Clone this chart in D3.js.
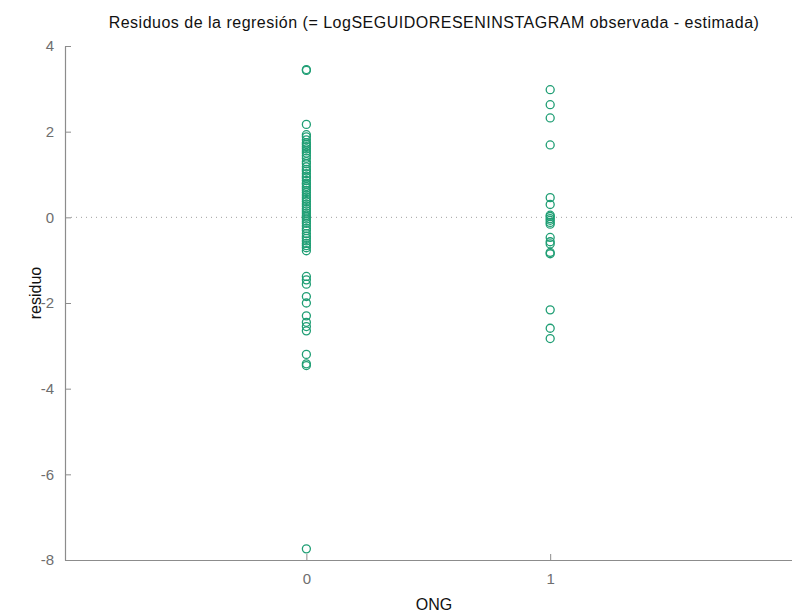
<!DOCTYPE html>
<html>
<head>
<meta charset="utf-8">
<script src="https://cdn.jsdelivr.net/npm/d3@7"></script>
<style>
  body { margin: 0; background: #fff; }
  text { font-family: "Liberation Sans", Arial, sans-serif; }
</style>
</head>
<body>
<svg id="chart" width="792" height="614"></svg>
<script>
// residuos para ONG = 0
const residOng0 = [
  3.45, 3.43, 2.17, 1.93, 1.88, 1.81, 1.74, 1.70, 1.65, 1.60, 1.55, 1.50,
  1.44, 1.38, 1.30, 1.25, 1.18, 1.12, 1.08, 1.02, 0.96, 0.92, 0.86, 0.80,
  0.77, 0.72, 0.68, 0.63, 0.58, 0.52, 0.47, 0.42, 0.37, 0.31, 0.26, 0.20,
  0.15, 0.10, 0.05, 0.01, -0.04, -0.09, -0.14, -0.20, -0.26, -0.31, -0.38,
  -0.44, -0.49, -0.55, -0.61, -0.66, -0.71, -0.78,
  -1.38, -1.46, -1.56, -1.85, -2.00, -2.30, -2.45, -2.55, -2.65,
  -3.20, -3.42, -3.46, -7.74
];
// residuos para ONG = 1
const residOng1 = [
  2.98, 2.63, 2.32, 1.69, 0.46, 0.30, 0.05, 0.02, -0.03, -0.07, -0.12,
  -0.16, -0.47, -0.57, -0.62, -0.82, -0.85, -2.16, -2.59, -2.83
];
const xTicks = [0, 1];
const yTicks = [-8, -6, -4, -2, 0, 2, 4];

const title = 'Residuos de la regresión (= LogSEGUIDORESENINSTAGRAM observada - estimada)';
const xLabel = 'ONG';
const yLabel = 'residuo';

const svg = d3.select('#chart');
const mLeft = 65, mRight = 794, mTop = 46, mBottom = 560;
const green = '#1f9e74';

const points = residOng0.map(v => ({x: 0, y: v}))
  .concat(residOng1.map(v => ({x: 1, y: v})));

const xScale = d3.scaleLinear().domain([-0.99, 2]).range([mLeft, mRight]);
const yScale = d3.scaleLinear().domain([-8, 4]).range([mBottom, mTop]);

// eje y (guion simple como signo menos, igual que el original)
const yAxis = d3.axisLeft(yScale).tickValues(yTicks).tickSizeInner(-6)
  .tickSizeOuter(0).tickPadding(11).tickFormat(d => String(d));
const yg = svg.append('g')
  .attr('transform', `translate(${mLeft},0)`)
  .call(yAxis);

// eje x
const xAxis = d3.axisBottom(xScale).tickValues(xTicks).tickSizeInner(-6)
  .tickSizeOuter(0).tickPadding(13).tickFormat(d => String(d));
const xg = svg.append('g')
  .attr('transform', `translate(0,${mBottom})`)
  .call(xAxis);

[yg, xg].forEach(g => {
  g.select('.domain').attr('stroke', '#8c8c8c').attr('stroke-width', 1.2);
  g.selectAll('.tick line').attr('stroke', '#8c8c8c');
  g.selectAll('.tick text').attr('fill', '#6e6e6e').attr('font-size', 15)
    .attr('font-family', '"Liberation Sans", Arial, sans-serif');
});

// linea de cero punteada
svg.append('line')
  .attr('x1', mLeft + 6).attr('x2', mRight)
  .attr('y1', yScale(0)).attr('y2', yScale(0))
  .attr('stroke', '#a0a0a0')
  .attr('stroke-dasharray', '1,4');

// puntos
svg.append('g').selectAll('circle')
  .data(points).join('circle')
  .attr('cx', d => xScale(d.x))
  .attr('cy', d => yScale(d.y))
  .attr('r', 4)
  .attr('fill', 'none')
  .attr('stroke', green)
  .attr('stroke-width', 1.3);

// titulo y etiquetas
svg.append('text')
  .attr('x', 434).attr('y', 28)
  .attr('text-anchor', 'middle')
  .attr('font-size', 16)
  .attr('letter-spacing', 0.5)
  .attr('fill', '#111')
  .text(title);

svg.append('text')
  .attr('x', 434).attr('y', 610)
  .attr('text-anchor', 'middle')
  .attr('font-size', 16)
  .attr('fill', '#111')
  .text(xLabel);

svg.append('text')
  .attr('transform', `translate(41,${(mTop + mBottom) / 2 - 10}) rotate(-90)`)
  .attr('text-anchor', 'middle')
  .attr('font-size', 16)
  .attr('fill', '#111')
  .text(yLabel);
</script>
</body>
</html>
